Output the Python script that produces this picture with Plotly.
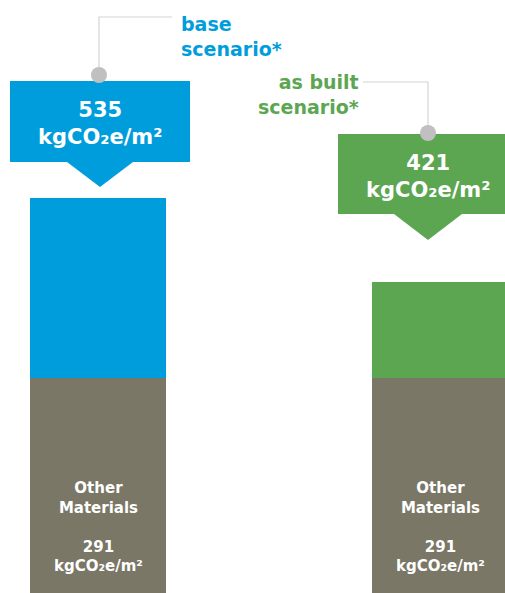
import plotly.graph_objects as go

# ---- data ----
scenarios = ["base scenario*", "as built scenario*"]
other_materials = [291, 291]
totals = [535, 421]
remainder = [t - o for t, o in zip(totals, other_materials)]
unit = "kgCO₂e/m²"

BLUE = "#009ddc"
GREEN = "#5ca652"
GREY = "#7a7766"
LINE = "#d4d4d4"
DOT = "#c0c0c0"
FONT = "DejaVu Sans"

W, H = 505, 593
def px(x): return x / W
def py(y): return 1 - y / H

fig = go.Figure()
fig.add_bar(x=[0, 1], y=other_materials, marker_color=GREY, width=0.398,
            hoverinfo="skip", marker_line_width=0)
fig.add_bar(x=[0, 1], y=remainder, marker_color=[BLUE, GREEN], width=0.398,
            hoverinfo="skip", marker_line_width=0)

shapes = []
annotations = []

def callout(x0, x1, y0, y1, tipx, tipy, half, color, dotx, doty, path_pts):
    # connector line
    d = "M " + " L ".join(f"{px(a)},{py(b)}" for a, b in path_pts)
    shapes.append(dict(type="path", xref="paper", yref="paper", path=d,
                       line=dict(color=LINE, width=1.2)))
    shapes.append(dict(type="rect", xref="paper", yref="paper",
                       x0=px(x0), x1=px(x1), y0=py(y1), y1=py(y0),
                       fillcolor=color, line_width=0))
    tri = (f"M {px(tipx-half)},{py(y1)} L {px(tipx+half)},{py(y1)} "
           f"L {px(tipx)},{py(tipy)} Z")
    shapes.append(dict(type="path", xref="paper", yref="paper", path=tri,
                       fillcolor=color, line_width=0))
    r = 8
    shapes.append(dict(type="circle", xref="paper", yref="paper",
                       x0=px(dotx - r), x1=px(dotx + r), y0=py(doty + r), y1=py(doty - r),
                       fillcolor=DOT, line_width=0))

callout(10, 190, 81, 162, 100, 187, 33, BLUE, 99, 75,
        [(99, 75), (99, 17), (172, 17)])
callout(338, 520, 134, 214, 428, 240, 34, GREEN, 428, 133,
        [(428, 133), (428, 82), (363, 82)])

# total labels in the callout boxes
for i, (cx, cy, col) in enumerate([(100, 123, BLUE), (428, 176, GREEN)]):
    annotations.append(dict(xref="paper", yref="paper", x=px(cx), y=py(cy),
                            text=f"<b>{totals[i]}</b><br><b>{unit}</b>",
                            showarrow=False, xanchor="center", yanchor="middle",
                            font=dict(family=FONT, size=21, color="white"),
                            align="center"))

# scenario labels
annotations.append(dict(xref="paper", yref="paper", x=px(179), y=py(36),
                        text="<b>base</b><br><b>scenario*</b>", showarrow=False,
                        xanchor="left", yanchor="middle", align="left",
                        font=dict(family=FONT, size=19, color=BLUE)))
annotations.append(dict(xref="paper", yref="paper", x=px(361), y=py(94),
                        text="<b>as built</b><br><b>scenario*</b>", showarrow=False,
                        xanchor="right", yanchor="middle", align="right",
                        font=dict(family=FONT, size=19, color=GREEN)))

# other materials labels
for i in range(2):
    annotations.append(dict(xref="x", yref="paper", x=i, y=py(527),
                            text=(f"<b>Other</b><br><b>Materials</b><br><br>"
                                  f"<b>{other_materials[i]}</b><br><b>{unit}</b>"),
                            showarrow=False, xanchor="center", yanchor="middle",
                            align="center",
                            font=dict(family=FONT, size=15, color="white")))

fig.update_layout(
    barmode="stack", width=W, height=H, showlegend=False,
    margin=dict(l=0, r=0, t=0, b=0),
    paper_bgcolor="white", plot_bgcolor="white",
    xaxis=dict(range=[-98 / 342, (W - 98) / 342], visible=False),
    yaxis=dict(range=[0, 593 / 0.738], visible=False),
    shapes=shapes, annotations=annotations,
)
fig.write_html("out.html")
